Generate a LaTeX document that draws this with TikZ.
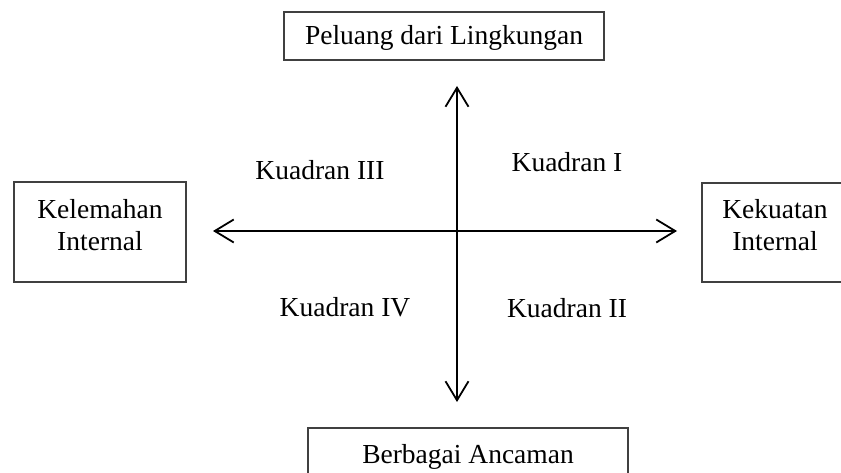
\documentclass[tikz,border=0pt]{standalone}
\usepackage{fontspec}
\setmainfont{Liberation Serif}
\usetikzlibrary{arrows.meta}
\begin{document}
\begin{tikzpicture}[x=1pt,y=-1pt,
  box/.style={draw=black!75, line width=1.2pt, inner sep=0pt, align=center,
    font=\fontsize{27.5}{32}\selectfont},
  lbl/.style={inner sep=0pt, font=\fontsize{27.5}{32}\selectfont},
  axis/.style={line width=1.8pt, {Straight Barb[length=19pt,width=23pt,line width=1.8pt]}-{Straight Barb[length=19pt,width=23pt,line width=1.8pt]}}]
\clip (0,0) rectangle (841,473);
\fill[white] (0,0) rectangle (841,473);
\node[box, minimum width=320pt, minimum height=48pt] (opp) at (444,36) {\raisebox{-9pt}[0pt][0pt]{Peluang dari Lingkungan}};
\node[box, minimum width=172pt, minimum height=100pt] (weak) at (100,232) {\raisebox{13pt}[0pt][0pt]{\begin{tabular}[t]{@{}c@{}}Kelemahan\\Internal\end{tabular}}};
\node[box, minimum width=146pt, minimum height=99pt] (str) at (775,232.5) {\raisebox{14pt}[0pt][0pt]{\begin{tabular}[t]{@{}c@{}}Kekuatan\\Internal\end{tabular}}};
\node[box, minimum width=320pt, minimum height=54pt] (thr) at (468,455) {\raisebox{-8pt}[0pt][0pt]{Berbagai Ancaman}};
\coordinate (axT) at (457,86);
\coordinate (axB) at (457,402);
\coordinate (axL) at (213,231);
\coordinate (axR) at (677,231);
\draw[axis] (axB) -- (axT);
\draw[axis] (axL) -- (axR);
\node[lbl] (q3) at (320,170) {Kuadran III};
\node[lbl] (q1) at (567,162) {Kuadran I};
\node[lbl] (q4) at (345,307) {Kuadran IV};
\node[lbl] (q2) at (567,308) {Kuadran II};
\end{tikzpicture}
\end{document}
